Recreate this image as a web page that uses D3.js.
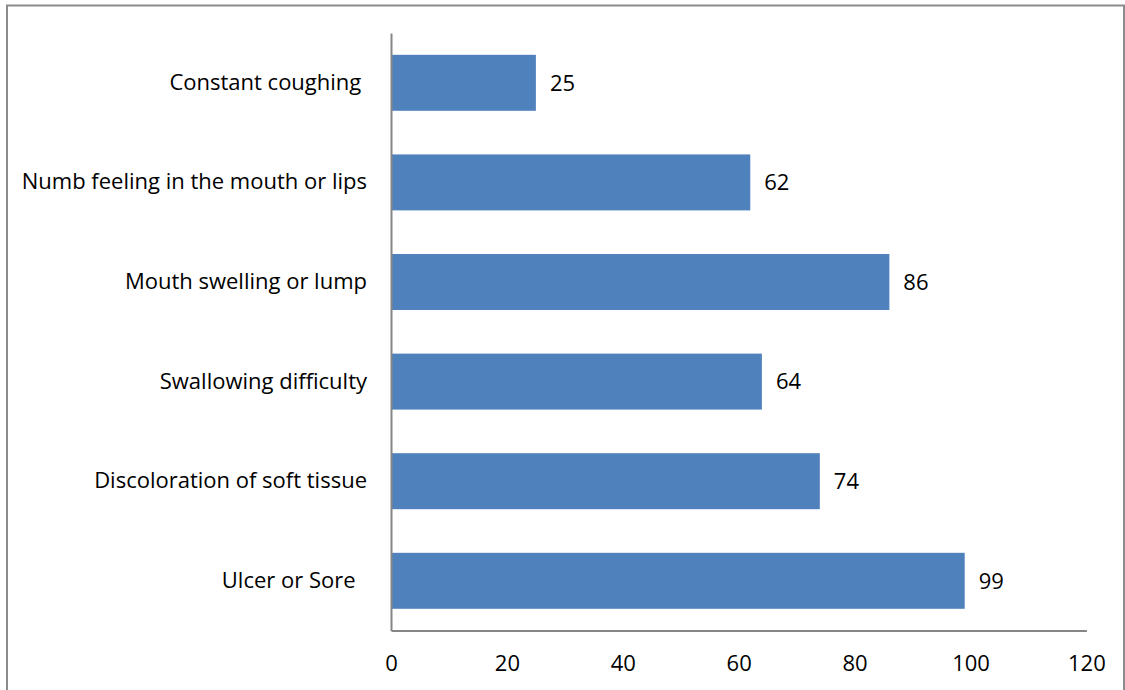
<!DOCTYPE html>
<html>
<head>
<meta charset="utf-8">
<script src="https://cdn.jsdelivr.net/npm/d3@7"></script>
<style>
  html, body { margin: 0; padding: 0; background: #fff; }
  svg { display: block; }
  text { font-family: "Open Sans", sans-serif; fill: #000; white-space: pre; }
</style>
</head>
<body>
<script>
const categories = ["Constant coughing ", "Numb feeling in the mouth or lips", "Mouth swelling or lump", "Swallowing difficulty", "Discoloration of soft tissue", "Ulcer or Sore  "];
const values = [25, 62, 86, 64, 74, 99];
const tickValues = [0, 20, 40, 60, 80, 100, 120];

const W = 1125, H = 690;
const FS = 22;
const svg = d3.select("body").append("svg").attr("width", W).attr("height", H);

// chart border
svg.append("rect").attr("x", 7).attr("y", 5.5).attr("width", 1117).attr("height", 700)
  .attr("fill", "none").attr("stroke", "#8c8c8c").attr("stroke-width", 2);

const x = d3.scaleLinear().domain([0, 120]).range([391, 1086.4]);
const y = d3.scaleBand().domain(categories).range([33, 630.6]).paddingInner(0.438).paddingOuter(0.219);

// bars
svg.selectAll("rect.bar").data(values).enter().append("rect")
  .attr("class", "bar")
  .attr("x", x(0))
  .attr("y", (d, i) => y(categories[i]))
  .attr("width", d => x(d) - x(0))
  .attr("height", y.bandwidth())
  .attr("fill", "#4F81BD");

// value labels
svg.selectAll("text.val").data(values).enter().append("text")
  .attr("class", "val")
  .attr("x", d => x(d) + 14)
  .attr("y", (d, i) => y(categories[i]) + y.bandwidth() / 2)
  .attr("dy", "0.35em")
  .attr("font-size", FS)
  .text(d => d);

// y axis
const yAxis = d3.axisLeft(y).tickSize(0).tickPadding(24);
const gy = svg.append("g").attr("transform", `translate(${x(0)},0)`).call(yAxis);
gy.select(".domain").attr("stroke", "#868686").attr("stroke-width", 2);
gy.selectAll("text").attr("font-size", FS).attr("font-family", null).style("white-space", "pre");

// x axis
const xAxis = d3.axisBottom(x).tickValues(tickValues).tickSize(0).tickPadding(25);
const gx = svg.append("g").attr("transform", `translate(0,630.6)`).call(xAxis);
gx.select(".domain").attr("stroke", "#868686").attr("stroke-width", 2);
gx.selectAll("text").attr("font-size", FS).attr("font-family", null);
</script>
</body>
</html>
